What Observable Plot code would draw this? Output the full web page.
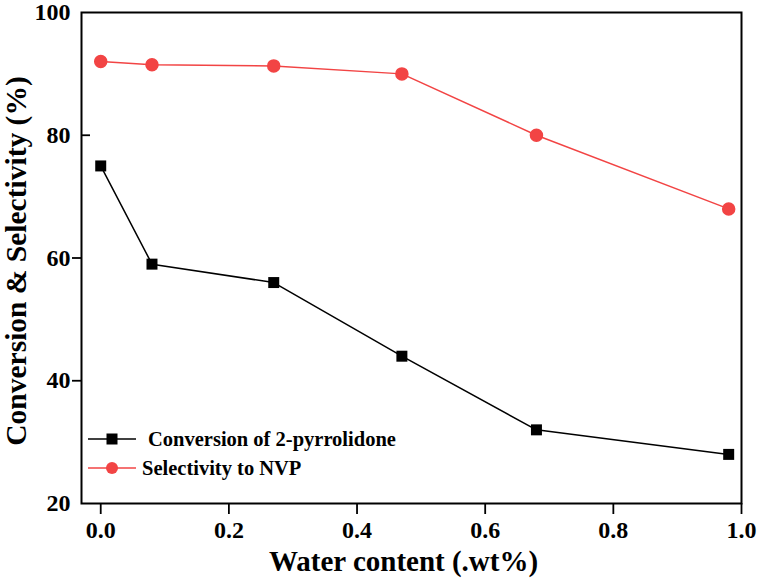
<!DOCTYPE html>
<html>
<head>
<meta charset="utf-8">
<script src="https://cdn.jsdelivr.net/npm/d3@7"></script>
<script src="https://cdn.jsdelivr.net/npm/@observablehq/plot@0.6"></script>
<style>
  body { margin: 0; background: #fff; }
  #wrap { position: relative; width: 759px; height: 582px; }
  #legend { position: absolute; left: 0; top: 0; pointer-events: none; }
</style>
</head>
<body>
<div id="wrap"></div>
<script>
const water = [0.0, 0.08, 0.27, 0.47, 0.68, 0.98];
const conversion = [75, 59, 56, 44, 32, 28];
const selectivity = [92, 91.5, 91.3, 90, 80, 68];
const seriesNames = ["Conversion of 2-pyrrolidone", "Selectivity to NVP"];
const xTicks = [0, 0.2, 0.4, 0.6, 0.8, 1.0];
const yTicks = [20, 40, 60, 80, 100];

const red = "#f24444";
const font = "'Liberation Serif', 'Times New Roman', serif";

const convData = water.map((w, i) => ({x: w, y: conversion[i]}));
const selData = water.map((w, i) => ({x: w, y: selectivity[i]}));

const chart = Plot.plot({
  width: 759,
  height: 582,
  marginLeft: 81,
  marginRight: 18,
  marginTop: 12,
  marginBottom: 79,
  style: {fontFamily: font, fontSize: "24px", fontWeight: "bold", color: "#000", background: "#fff"},
  x: {domain: [-0.03, 1.0]},
  y: {domain: [20, 100]},
  marks: [
    Plot.axisX({ticks: xTicks, tickFormat: d3.format(".1f"), tickSize: 11, tickPadding: 6, strokeWidth: 1.8, label: null,
                fontSize: 24, fontFamily: font, fontWeight: "bold"}),
    Plot.axisY({ticks: yTicks, tickSize: 0, tickPadding: 11, label: null,
                fontSize: 24, fontFamily: font, fontWeight: "bold"}),
    Plot.axisY({ticks: [40, 60], tickSize: 9, text: null, strokeWidth: 1.8, label: null}),
    Plot.axisY({ticks: [80], tickSize: -9, text: null, strokeWidth: 1.8, label: null}),
    Plot.frame({stroke: "#000", strokeWidth: 2}),
    Plot.line(selData, {x: "x", y: "y", stroke: red, strokeWidth: 1.5}),
    Plot.dot(selData, {x: "x", y: "y", r: 6, fill: red, stroke: red, symbol: "circle"}),
    Plot.line(convData, {x: "x", y: "y", stroke: "#000", strokeWidth: 1.5}),
    Plot.dot(convData, {x: "x", y: "y", r: 6.2, fill: "#000", symbol: "square"}),
    Plot.text(["Water content (.wt%)"], {frameAnchor: "bottom", dy: 67, dx: -8, textAnchor: "middle", lineAnchor: "bottom",
                fontSize: 29, fontFamily: font, fontWeight: "bold"}),
    Plot.text(["Conversion & Selectivity (%)"], {frameAnchor: "left", dx: -56, dy: 3, rotate: -90, textAnchor: "middle", lineAnchor: "bottom",
                fontSize: 29.5, fontFamily: font, fontWeight: "bold"})
  ]
});
document.getElementById("wrap").appendChild(chart);

// Legend overlay
const lg = d3.select("#wrap").append("svg")
  .attr("id", "legend").attr("width", 759).attr("height", 582);
const rows = [
  {name: seriesNames[0], color: "#000", sym: "square", y: 439, tx: 148},
  {name: seriesNames[1], color: red, sym: "circle", y: 468, tx: 142}
];
rows.forEach(r => {
  lg.append("line").attr("x1", 88).attr("x2", 136).attr("y1", r.y).attr("y2", r.y)
    .attr("stroke", r.color).attr("stroke-width", 1.5);
  if (r.sym === "square") {
    lg.append("rect").attr("x", 112 - 5.5).attr("y", r.y - 5.5).attr("width", 11).attr("height", 11).attr("fill", r.color);
  } else {
    lg.append("circle").attr("cx", 112).attr("cy", r.y).attr("r", 6).attr("fill", r.color);
  }
  lg.append("text").attr("x", r.tx).attr("y", r.y).attr("dy", "0.35em")
    .attr("font-family", font).attr("font-size", 20.5).attr("font-weight", "bold")
    .text(r.name);
});
</script>
</body>
</html>
